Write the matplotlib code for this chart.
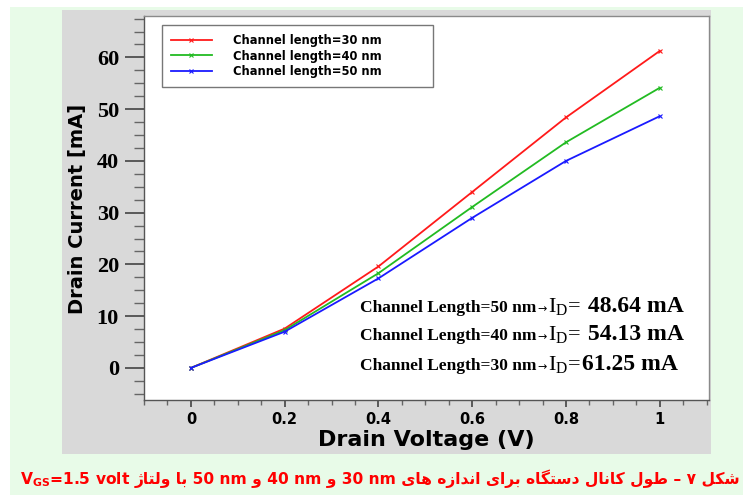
import matplotlib
matplotlib.use("Agg")
import matplotlib.pyplot as plt
from matplotlib.patches import Rectangle
from matplotlib.ticker import MultipleLocator

# drain voltage sweep and drain current (mA) for each channel length
vd = [0.0, 0.2, 0.4, 0.6, 0.8, 1.0]
id_30 = [0.0, 7.6, 19.6, 34.0, 48.4, 61.25]
id_40 = [0.0, 7.3, 18.3, 31.1, 43.6, 54.13]
id_50 = [0.0, 7.0, 17.3, 29.0, 40.0, 48.64]

series_labels = ["Channel length=30 nm", "Channel length=40 nm", "Channel length=50 nm"]
series_colors = ["#ff1a1a", "#22bb22", "#1a1aff"]

# end-point currents written inside the plot (top to bottom)
note_lengths = [50, 40, 30]
note_values = [id_50[-1], id_40[-1], id_30[-1]]
note_gaps = [" ", " ", ""]

W, H = 743, 495

# Persian letters -> (isolated, final, initial, medial) presentation forms
FORMS = {
    "ا": ("\uFE8D", "\uFE8E"),
    "ب": ("\uFE8F", "\uFE90", "\uFE91", "\uFE92"),
    "ت": ("\uFE95", "\uFE96", "\uFE97", "\uFE98"),
    "د": ("\uFEA9", "\uFEAA"),
    "ر": ("\uFEAD", "\uFEAE"),
    "ز": ("\uFEAF", "\uFEB0"),
    "ژ": ("\uFB8A", "\uFB8B"),
    "س": ("\uFEB1", "\uFEB2", "\uFEB3", "\uFEB4"),
    "ش": ("\uFEB5", "\uFEB6", "\uFEB7", "\uFEB8"),
    "ط": ("\uFEC1", "\uFEC2", "\uFEC3", "\uFEC4"),
    "ک": ("\uFB8E", "\uFB8F", "\uFB90", "\uFB91"),
    "گ": ("\uFB92", "\uFB93", "\uFB94", "\uFB95"),
    "ل": ("\uFEDD", "\uFEDE", "\uFEDF", "\uFEE0"),
    "ن": ("\uFEE5", "\uFEE6", "\uFEE7", "\uFEE8"),
    "ه": ("\uFEE9", "\uFEEA", "\uFEEB", "\uFEEC"),
    "و": ("\uFEED", "\uFEEE"),
    "ی": ("\uFBFC", "\uFBFD", "\uFBFE", "\uFBFF"),
}


def shape(word):
    out = []
    for i, ch in enumerate(word):
        forms = FORMS.get(ch)
        if forms is None:
            out.append(ch)
            continue
        prev = word[i - 1] if i > 0 else None
        nxt = word[i + 1] if i + 1 < len(word) else None
        jp = prev in FORMS and len(FORMS[prev]) == 4
        jn = len(forms) == 4 and nxt in FORMS
        if jp and jn:
            out.append(forms[3])
        elif jp:
            out.append(forms[1])
        elif jn:
            out.append(forms[2])
        else:
            out.append(forms[0])
    # glyphs are laid out left to right, so flip the word
    return "".join(reversed(out))


def visual(words):
    vis = [shape(w) if any(c in FORMS for c in w) else w for w in words]
    return " ".join(reversed(vis))


caption_words = ["شکل", "۷", "–", "طول", "کانال", "دستگاه", "برای", "اندازه", "های",
                 "30 nm", "و", "40 nm", "و", "50 nm", "با", "ولتاژ"]

fig = plt.figure(figsize=(W / 100, H / 100), dpi=100)
fig.patch.set_facecolor("white")
fig.patches.append(Rectangle((10 / W, 0), 1, 1 - 7 / H, transform=fig.transFigure,
                             facecolor="#e8fbe8", edgecolor="none", zorder=-3))
fig.patches.append(Rectangle((62 / W, 1 - 454 / H), (711 - 62) / W, (454 - 10) / H,
                             transform=fig.transFigure, facecolor="#d9d9d9",
                             edgecolor="none", zorder=-2))

ax = fig.add_axes([144 / W, 1 - 400 / H, (709 - 144) / W, (400 - 16) / H])
ax.set_facecolor("white")

for ys, lab, col in zip([id_30, id_40, id_50], series_labels, series_colors):
    ax.plot(vd, ys, color=col, lw=1.3, marker="x", ms=3.5, mew=0.8, label=lab)

ax.set_xlim(-0.1, 1.105)
ax.set_ylim(-6.2, 68)
ax.set_xticks(vd)
ax.set_xticklabels(["0", "0.2", "0.4", "0.6", "0.8", "1"])
ax.xaxis.set_minor_locator(MultipleLocator(0.05))
ax.yaxis.set_major_locator(MultipleLocator(10))
ax.yaxis.set_minor_locator(MultipleLocator(2.5))

for sp in ax.spines.values():
    sp.set_color("#8a8a8a")
    sp.set_linewidth(1.0)
ax.spines["left"].set_color("#555555")
ax.spines["bottom"].set_color("#555555")

ax.tick_params(axis="y", which="major", direction="out", length=14, width=1.2,
               color="#444444", pad=4)
ax.tick_params(axis="y", which="minor", direction="out", length=7, width=1.0,
               color="#666666")
ax.tick_params(axis="x", which="major", direction="out", length=5, width=1.2,
               color="#444444", pad=4)
ax.tick_params(axis="x", which="minor", direction="out", length=3.5, width=1.0,
               color="#666666")
for t in ax.get_yticklabels():
    t.set_fontfamily("Liberation Serif")
    t.set_fontweight("bold")
    t.set_fontsize(16)
for t in ax.get_xticklabels():
    t.set_fontfamily("DejaVu Sans")
    t.set_fontweight("bold")
    t.set_fontsize(10.5)

ax.set_xlabel("Drain Voltage (V)", family="DejaVu Sans", weight="bold", fontsize=16)
ax.xaxis.set_label_coords(0.5, -(440 - 400) / (400 - 16))
ax.xaxis.label.set_va("center")
fig.text(78 / W, 1 - 209 / H, "Drain Current [mA]", rotation=90, ha="center",
         va="center", family="DejaVu Sans", weight="bold", fontsize=14)

leg = ax.legend(loc="upper left",
                bbox_to_anchor=(162 / W, 1 - 25 / H - 0.01, (433 - 162) / W, 0.01),
                bbox_transform=fig.transFigure, mode="expand", borderaxespad=0,
                prop={"family": "DejaVu Sans", "weight": "bold", "size": 8.3},
                frameon=True, fancybox=False, handlelength=3.5, handletextpad=1.9,
                labelspacing=0.2, borderpad=0.8)
leg.get_frame().set_edgecolor("#555555")
leg.get_frame().set_linewidth(1.0)

renderer = fig.canvas.get_renderer()


def put_run(x_px, y_px, pieces, color="black"):
    # place text pieces one after another on a shared baseline
    x = x_px
    for s, kw in pieces:
        t = fig.text(x / W, 1 - y_px / H, s, ha="left", va="baseline", color=color, **kw)
        x = t.get_window_extent(renderer).x1 + 1
    return x


small = dict(family="Liberation Serif", weight="bold", fontsize=12.5)
arrow = dict(family="DejaVu Sans", fontsize=8)
idsym = dict(family="Liberation Serif", fontsize=16)
big = dict(family="Liberation Serif", weight="bold", fontsize=17)
for n, v, gap, yb in zip(note_lengths, note_values, note_gaps, [312, 340, 370]):
    put_run(360, yb, [
        (f"Channel Length={n} nm", small),
        ("\u2192", arrow),
        ("I$_\\mathregular{D}$=", idsym),
        (f"{gap}{v:.2f} mA", big),
    ])

# figure caption: Persian text right-to-left, the V_GS part on the far left
cap_kw = dict(family="DejaVu Sans", weight="bold", fontsize=11.2, color="#ff0000")
t_right = fig.text(740 / W, 1 - 484 / H, visual(caption_words), ha="right",
                   va="baseline", **cap_kw)
x0 = t_right.get_window_extent(renderer).x0
fig.text((x0 - 4) / W, 1 - 484 / H, "V$_\\mathregular{GS}$=1.5 volt", ha="right",
         va="baseline", **cap_kw)

fig.savefig("out.png", dpi=100, facecolor=fig.get_facecolor())
